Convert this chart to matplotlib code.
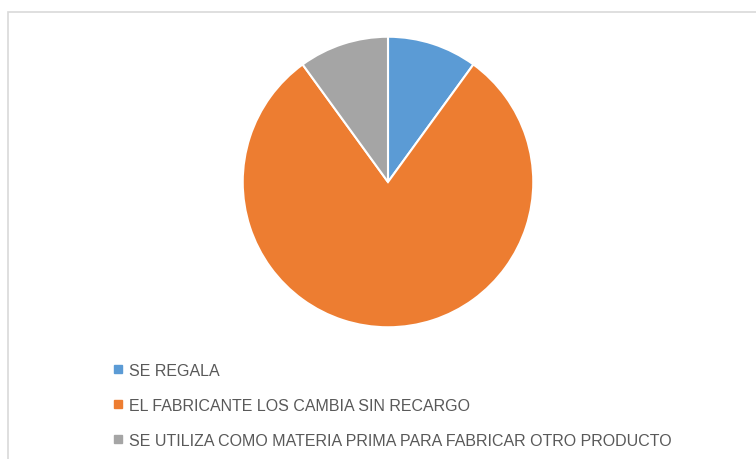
import matplotlib.pyplot as plt
from matplotlib.lines import Line2D
from matplotlib.patches import Rectangle

labels = ['SE REGALA', 'EL FABRICANTE LOS CAMBIA SIN RECARGO',
          'SE UTILIZA COMO MATERIA PRIMA PARA FABRICAR OTRO PRODUCTO']
values = [10, 80, 10]
colors = ['#5B9BD5', '#ED7D31', '#A5A5A5']

plt.rcParams['font.family'] = ['Liberation Sans', 'DejaVu Sans']

fig = plt.figure(figsize=(7.56, 4.60), dpi=100)

# marco del grafico
fig.add_artist(Rectangle((7.5 / 756, -0.1), 1.2, 1 - 12.5 / 460 + 0.1,
                         transform=fig.transFigure, fill=False,
                         edgecolor='#D9D9D9', linewidth=1.2))

ax = fig.add_axes([(388 - 146) / 756, 1 - (183 + 146) / 460, 292 / 756, 292 / 460])
ax.pie(values, colors=colors, startangle=90, counterclock=False,
       wedgeprops=dict(edgecolor='white', linewidth=1.5))
ax.set_xlim(-1.005, 1.005)
ax.set_ylim(-1.005, 1.005)
ax.set_aspect('equal')

handles = [Line2D([], [], marker='s', linestyle='', markersize=5.5,
                  markerfacecolor=c, markeredgecolor=c) for c in colors]
fig.legend(handles, labels, loc='upper left',
           bbox_to_anchor=(113 / 756, 1 - 364 / 460), frameon=False,
           fontsize=11.5, labelcolor='#595959', handlelength=0.6,
           handletextpad=0.4, labelspacing=1.25, borderpad=0, borderaxespad=0)

fig.savefig('out.png', dpi=100, facecolor='white')
